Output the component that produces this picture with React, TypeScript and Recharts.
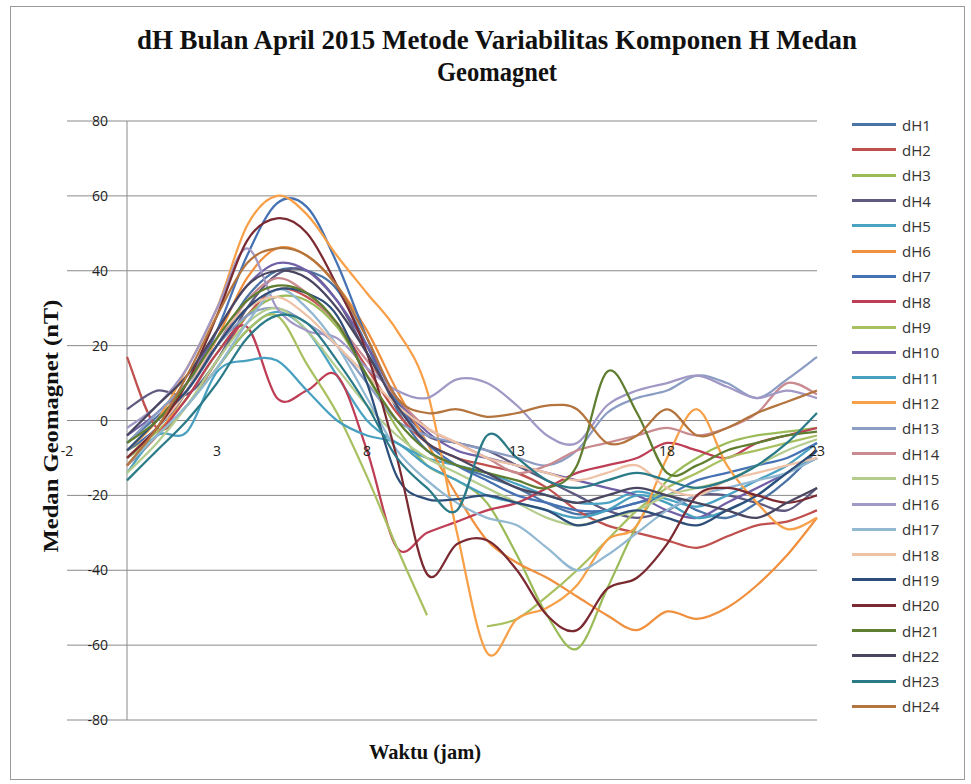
import React from 'react';
import { LineChart, Line, XAxis, YAxis, CartesianGrid, ReferenceLine } from 'recharts';

const hours = [0, 1, 2, 3, 4, 5, 6, 7, 8, 9, 10, 11, 12, 13, 14, 15, 16, 17, 18, 19, 20, 21, 22, 23];

const dH1 = [-6, 1, 8, 20, 33, 40, 40, 35, 20, 3, -8, -12, -15, -18, -22, -25, -24, -22, -20, -24, -26, -22, -16, -8];
const dH2 = [17, -2, 4, 16, 28, 35, 33, 26, 14, 2, -6, -10, -12, -14, -18, -24, -28, -30, -32, -34, -31, -28, -27, -24];
const dH3 = [-8, -3, 6, 18, 28, 33, 32, 25, 12, -2, -12, -16, -22, -36, -52, -61, -45, -28, -16, -10, -6, -4, -3, -2];
const dH4 = [3, 8, 7, 16, 30, 39, 40, 32, 18, 5, -4, -6, -8, -12, -16, -20, -24, -26, -24, -20, -20, -22, -24, -18];
const dH5 = [-10, -4, 4, 14, 24, 29, 24, 12, 0, -6, -10, -12, -14, -17, -20, -22, -22, -19, -21, -23, -20, -16, -12, -6];
const dH6 = [-12, -4, 8, 22, 38, 46, 44, 36, 24, 8, -6, -20, -32, -38, -42, -47, -52, -56, -51, -53, -50, -44, -36, -26];
const dH7 = [-8, -2, 8, 24, 44, 58, 57, 42, 22, 5, -6, -12, -16, -20, -22, -24, -24, -22, -20, -16, -14, -12, -10, -6];
const dH8 = [-12, -4, 6, 18, 25, 6, 8, 12, -8, -34, -30, -27, -24, -22, -18, -14, -12, -10, -6, -8, -10, -6, -4, -2];
const dH9 = [-10, -4, 4, 14, 24, 28, 15, 2, -15, -34, -52, null, -55, -53, -47, -40, -32, -24, -18, -14, -10, -8, -6, -4];
const dH10 = [-4, 2, 10, 24, 36, 42, 40, 32, 20, 6, -3, -8, -10, -12, -14, -16, -18, -20, -24, -26, -22, -18, -14, -10];
const dH11 = [-14, -4, -3, 13, 16, 16, 8, 0, -4, -6, -12, -16, -20, -22, -24, -26, -24, -20, -22, -26, -24, -20, -14, -10];
const dH12 = [-8, 0, 14, 30, 52, 60, 55, 44, 34, 24, 8, -30, -62, -53, -50, -44, -32, -28, -10, 3, -12, -22, -29, -26];
const dH13 = [-6, 2, 10, 20, 28, 30, 26, 20, 10, 0, -4, -6, -8, -10, -12, -8, 2, 6, 8, 12, 10, 6, 11, 17];
const dH14 = [-10, -2, 8, 20, 32, 38, 34, 26, 16, 6, -2, -6, -10, -14, -12, -8, -6, -4, -2, -4, -2, 2, 10, 7];
const dH15 = [-14, -6, 4, 16, 26, 30, 24, 14, 4, -4, -10, -14, -18, -22, -26, -28, -26, -24, -20, -18, -16, -12, -8, -5];
const dH16 = [-2, 4, 14, 30, 46, 30, 24, 22, 14, 8, 6, 11, 10, 4, -4, -6, 4, 8, 10, 12, 9, 6, 8, 6];
const dH17 = [-12, -4, 4, 14, 26, 35, 30, 20, 6, -8, -16, -22, -26, -28, -34, -40, -36, -30, -24, -20, -18, -16, -14, -10];
const dH18 = [-10, -2, 8, 22, 30, 33, 28, 20, 12, 4, -2, -6, -10, -12, -14, -16, -14, -12, -18, -20, -16, -14, -12, -10];
const dH19 = [-8, 0, 8, 20, 30, 35, 34, 28, 10, -15, -21, -21, -20, -22, -24, -28, -26, -24, -26, -28, -24, -20, -14, -8];
const dH20 = [-10, -2, 10, 28, 48, 54, 50, 36, 18, -10, -41, -33, -32, -40, -52, -56, -45, -42, -33, -20, -18, -20, -22, -20];
const dH21 = [-6, 0, 10, 22, 32, 36, 34, 26, 12, 0, -8, -12, -14, -16, -18, -12, 13, 2, -14, -12, -8, -6, -4, -3];
const dH22 = [-4, 4, 12, 24, 36, 40, 38, 30, 18, 4, -6, -10, -14, -18, -20, -22, -20, -18, -20, -22, -24, -26, -22, -18];
const dH23 = [-16, -8, 0, 10, 22, 28, 26, 16, 4, -10, -18, -24, -4, -10, -16, -18, -16, -14, -16, -18, -16, -12, -6, 2];
const dH24 = [-12, -2, 12, 28, 42, 46, 44, 36, 22, 6, 2, 3, 1, 2, 4, 3, -6, -4, 3, -4, -2, 2, 5, 8];

const seriesNames = ['dH1', 'dH2', 'dH3', 'dH4', 'dH5', 'dH6', 'dH7', 'dH8', 'dH9', 'dH10', 'dH11', 'dH12',
  'dH13', 'dH14', 'dH15', 'dH16', 'dH17', 'dH18', 'dH19', 'dH20', 'dH21', 'dH22', 'dH23', 'dH24'];
const seriesValues = [dH1, dH2, dH3, dH4, dH5, dH6, dH7, dH8, dH9, dH10, dH11, dH12,
  dH13, dH14, dH15, dH16, dH17, dH18, dH19, dH20, dH21, dH22, dH23, dH24];
const seriesColors = ['#4A74A6', '#C0504D', '#9BBB59', '#5F5A80', '#4BA3C3', '#F0903E',
  '#4672B4', '#BE3E55', '#A8C060', '#7060A8', '#48A0C0', '#F7A048',
  '#8C9DC4', '#C98A90', '#B4CC8E', '#A298C6', '#92B8D2', '#EEC2A6',
  '#2E4E7A', '#7A2A30', '#607E30', '#4A4660', '#2A7A88', '#B4743E'];

const xTicks = [-2, 3, 8, 13, 18, 23];
const yTicks = [-80, -60, -40, -20, 0, 20, 40, 60, 80];

const titleLine1 = 'dH Bulan April 2015 Metode Variabilitas Komponen H Medan';
const titleLine2 = 'Geomagnet';
const xTitle = 'Waktu  (jam)';
const yTitle = 'Medan  Geomagnet (nT)';

const data = hours.map((h, i) => {
  const row: Record<string, number | null> = { h };
  seriesNames.forEach((n, k) => {
    row[n] = seriesValues[k][i];
  });
  return row;
});

// Excel-like smoothed line (Catmull-Rom through the points)
function excelSmooth(context: any) {
  let pts: [number, number][] = [];
  return {
    areaStart() {},
    areaEnd() {},
    lineStart() {
      pts = [];
    },
    lineEnd() {
      const n = pts.length;
      if (n === 0) return;
      context.moveTo(pts[0][0], pts[0][1]);
      if (n === 1) {
        context.lineTo(pts[0][0], pts[0][1]);
        return;
      }
      for (let i = 0; i < n - 1; i++) {
        const p0 = pts[i - 1] || pts[i];
        const p1 = pts[i];
        const p2 = pts[i + 1];
        const p3 = pts[i + 2] || p2;
        const t = 1 / 6;
        context.bezierCurveTo(
          p1[0] + (p2[0] - p0[0]) * t,
          p1[1] + (p2[1] - p0[1]) * t,
          p2[0] - (p3[0] - p1[0]) * t,
          p2[1] - (p3[1] - p1[1]) * t,
          p2[0],
          p2[1]
        );
      }
    },
    point(x: number, y: number) {
      pts.push([+x, +y]);
    },
  };
}

const renderXTick = (props: any) => {
  const { x, payload } = props;
  return (
    <text key={`xt-${payload.value}`} x={x} y={456} textAnchor="middle" fontFamily="'Open Sans', sans-serif" fontSize={14} fill="#222">
      {payload.value}
    </text>
  );
};

const renderYTick = (props: any) => {
  const { y, payload } = props;
  return (
    <text key={`yt-${payload.value}`} x={108} y={y + 5} textAnchor="end" fontFamily="'Open Sans', sans-serif" fontSize={14} fill="#222">
      {payload.value}
    </text>
  );
};

export default function App() {
  return (
    <div style={{ position: 'absolute', left: 0, top: 0, width: 971, height: 784, background: '#fff' }}>
      <div
        style={{
          position: 'absolute',
          left: 10,
          top: 6,
          width: 955,
          height: 774,
          border: '1px solid #9a9a9a',
          boxSizing: 'border-box',
        }}
      />
      <div style={{ position: 'absolute', left: 0, top: 0 }}>
        <LineChart width={971} height={784} data={data} margin={{ top: 121, right: 154, bottom: 54, left: 57 }}>
          <CartesianGrid vertical={false} stroke="#8a8a8a" strokeWidth={1} />
          <XAxis
            dataKey="h"
            type="number"
            domain={[-2, 23]}
            ticks={xTicks}
            interval={0}
            height={10}
            axisLine={false}
            tickLine={false}
            tick={renderXTick}
          />
          <YAxis
            type="number"
            domain={[-80, 80]}
            ticks={yTicks}
            interval={0}
            width={10}
            axisLine={false}
            tickLine={false}
            tick={renderYTick}
          />
          <ReferenceLine x={0} stroke="#8a8a8a" strokeWidth={1} />
          {seriesNames.map((n, k) => (
            <Line
              key={n}
              dataKey={n}
              name={n}
              type={excelSmooth as any}
              stroke={seriesColors[k]}
              strokeWidth={2.25}
              dot={false}
              activeDot={false}
              connectNulls={false}
              isAnimationActive={false}
            />
          ))}
        </LineChart>
      </div>
      <svg width={971} height={784} style={{ position: 'absolute', left: 0, top: 0, pointerEvents: 'none' }}>
        <text x={497} y={49} textAnchor="middle" fontFamily="'Liberation Serif', serif" fontWeight="bold" fontSize={28}
          textLength={720} lengthAdjust="spacingAndGlyphs" fill="#111">
          {titleLine1}
        </text>
        <text x={497} y={81} textAnchor="middle" fontFamily="'Liberation Serif', serif" fontWeight="bold" fontSize={28}
          textLength={120} lengthAdjust="spacingAndGlyphs" fill="#111">
          {titleLine2}
        </text>
        <text x={425} y={759} textAnchor="middle" fontFamily="'Liberation Serif', serif" fontWeight="bold" fontSize={22}
          textLength={112} lengthAdjust="spacingAndGlyphs" fill="#111">
          {xTitle}
        </text>
        <text x={0} y={0} transform="translate(58 426) rotate(-90)" textAnchor="middle"
          fontFamily="'Liberation Serif', serif" fontWeight="bold" fontSize={21}
          textLength={253} lengthAdjust="spacingAndGlyphs" fill="#111">
          {yTitle}
        </text>
      </svg>
      <div style={{ position: 'absolute', left: 852, top: 112 }}>
        {seriesNames.map((n, k) => (
          <div key={n} style={{ display: 'flex', alignItems: 'center', height: 25.3 }}>
            <div style={{ width: 44, height: 3, background: seriesColors[k] }} />
            <span style={{ marginLeft: 6, fontFamily: "'Open Sans', sans-serif", fontSize: 15, color: '#333' }}>{n}</span>
          </div>
        ))}
      </div>
    </div>
  );
}
